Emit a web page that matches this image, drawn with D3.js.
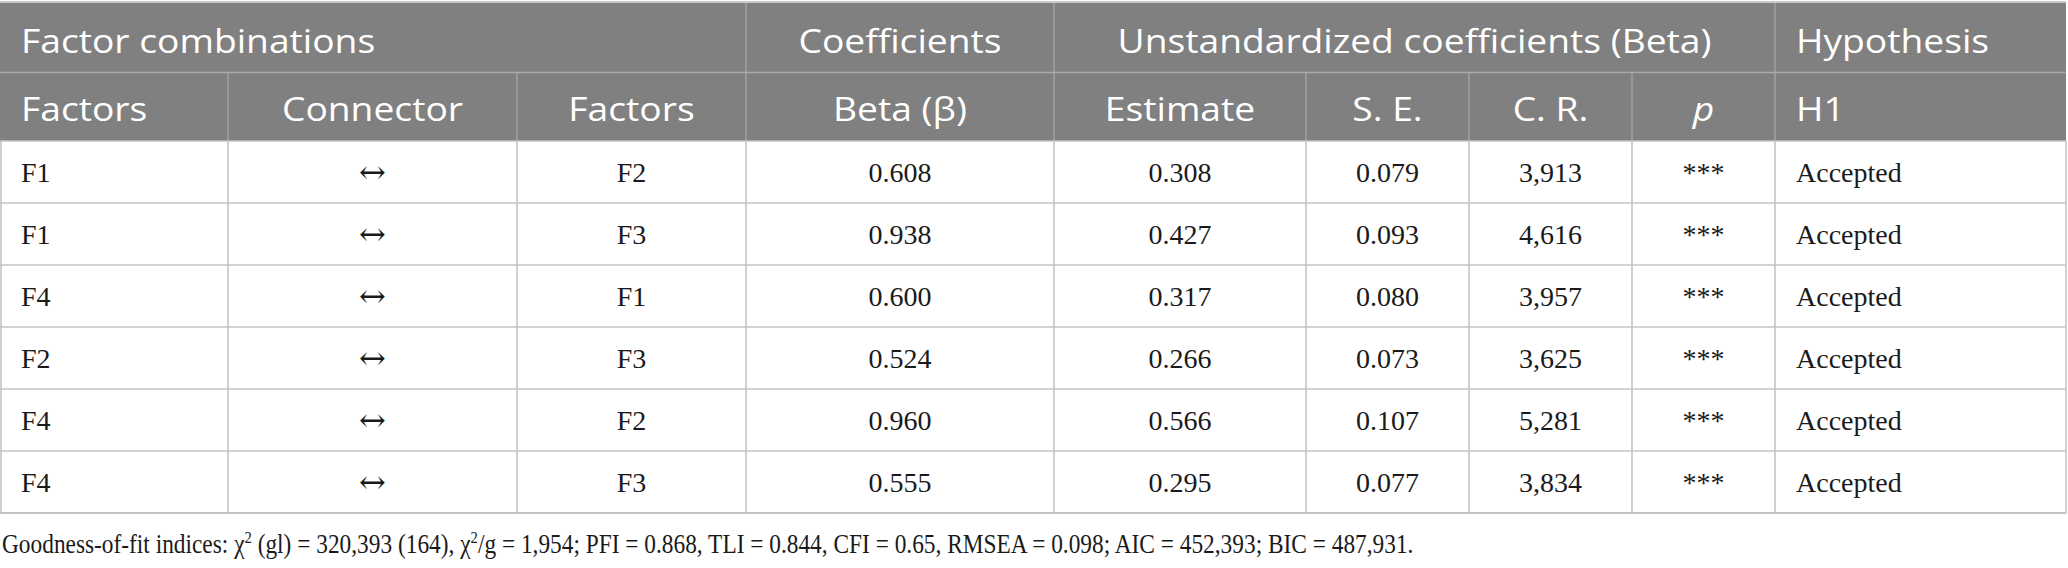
<!DOCTYPE html>
<html>
<head>
<meta charset="utf-8">
<script src="https://cdn.jsdelivr.net/npm/d3@7"></script>
<style>
  html, body { margin: 0; padding: 0; background: #fff; }
  svg { display: block; }
</style>
</head>
<body>
<svg id="chart" width="2068" height="568"></svg>
<script>
// ---- data ----
const factorsLeft  = ["F1", "F1", "F4", "F2", "F4", "F4"];
const connectors   = ["↔", "↔", "↔", "↔", "↔", "↔"];
const factorsRight = ["F2", "F3", "F1", "F3", "F2", "F3"];
const betas        = ["0.608", "0.938", "0.600", "0.524", "0.960", "0.555"];
const estimates    = ["0.308", "0.427", "0.317", "0.266", "0.566", "0.295"];
const stdErrors    = ["0.079", "0.093", "0.080", "0.073", "0.107", "0.077"];
const critRatios   = ["3,913", "4,616", "3,957", "3,625", "5,281", "3,834"];
const pValues      = ["***", "***", "***", "***", "***", "***"];
const hypotheses   = ["Accepted", "Accepted", "Accepted", "Accepted", "Accepted", "Accepted"];

const groupHeaders = ["Factor combinations", "Coefficients", "Unstandardized coefficients (Beta)", "Hypothesis"];
const colHeaders   = ["Factors", "Connector", "Factors", "Beta (β)", "Estimate", "S. E.", "C. R.", "p", "H1"];

// ---- layout ----
const svg = d3.select("#chart");
const edges = [0, 228, 517, 746, 1054, 1306, 1469, 1632, 1775, 2066];
const colAlign = ["start", "middle", "middle", "middle", "middle", "middle", "middle", "middle", "start"];
const groupSpans = [[0, 3, "start"], [3, 4, "middle"], [4, 8, "middle"], [8, 9, "start"]];
const pad = 21;
const headTop = 3, head1Bot = 72.5, head2Bot = 141;
const dataBot = 513;

const columns = [factorsLeft, connectors, factorsRight, betas, estimates, stdErrors, critRatios, pValues, hypotheses];
const nRows = factorsLeft.length;

const y = d3.scaleBand().domain(d3.range(nRows)).range([head2Bot, dataBot]).padding(0);
const xEdge = d3.scaleOrdinal().domain(d3.range(edges.length)).range(edges);

function textX(a, b, align) {
  return align === "start" ? xEdge(a) + pad : (xEdge(a) + xEdge(b)) / 2;
}

const headFont = "'Open Sans', 'Noto Sans', sans-serif";
const bodyFont = "'Liberation Serif', 'DejaVu Serif', serif";
const headFill = "#808080";
const headLine = "#a8a8a8";
const gridLine = "#c4c4c4";
const headSize = 32.5;

// header background
svg.append("rect").attr("x", 0).attr("y", headTop).attr("width", edges[edges.length - 1])
  .attr("height", head2Bot - headTop).attr("fill", headFill);

svg.append("line").attr("x1", 0).attr("x2", edges[edges.length - 1]).attr("y1", 2).attr("y2", 2)
  .attr("stroke", "#c8c8c8").attr("stroke-width", 2);

svg.append("line").attr("x1", 0).attr("x2", edges[edges.length - 1]).attr("y1", head1Bot).attr("y2", head1Bot)
  .attr("stroke", headLine).attr("stroke-width", 1.5);
[3, 4, 8].forEach(i => {
  svg.append("line").attr("x1", xEdge(i)).attr("x2", xEdge(i)).attr("y1", headTop).attr("y2", head1Bot)
    .attr("stroke", headLine).attr("stroke-width", 1.2);
});
d3.range(1, edges.length - 1).forEach(i => {
  svg.append("line").attr("x1", xEdge(i)).attr("x2", xEdge(i)).attr("y1", head1Bot).attr("y2", head2Bot)
    .attr("stroke", headLine).attr("stroke-width", 1.2);
});

// header texts (slightly widened to match the reference's proportions)
const headTexts = [];
groupSpans.forEach((g, i) => {
  headTexts.push(svg.append("text").attr("x", textX(g[0], g[1], g[2])).attr("y", 53)
    .attr("text-anchor", g[2]).attr("font-family", headFont).attr("font-size", headSize)
    .attr("fill", "#fff").text(groupHeaders[i]));
});
colHeaders.forEach((h, i) => {
  headTexts.push(svg.append("text").attr("x", textX(i, i + 1, colAlign[i])).attr("y", 121)
    .attr("text-anchor", colAlign[i]).attr("font-family", headFont).attr("font-size", headSize)
    .attr("font-style", h === "p" ? "italic" : null)
    .attr("fill", "#fff").text(h));
});
const refW = headTexts[2].node().getComputedTextLength();
const kHead = refW > 0 ? 594 / refW : 1;
headTexts.forEach(t => {
  const w = t.node().getComputedTextLength();
  if (w > 0) t.attr("textLength", w * kHead).attr("lengthAdjust", "spacingAndGlyphs");
});

// body grid
d3.range(nRows + 1).forEach(r => {
  const yy = r < nRows ? y(r) : dataBot;
  svg.append("line").attr("x1", 0).attr("x2", edges[edges.length - 1]).attr("y1", yy).attr("y2", yy)
    .attr("stroke", gridLine).attr("stroke-width", r === nRows ? 2.2 : 1.6);
});
edges.forEach((e, i) => {
  svg.append("line").attr("x1", e + (i === 0 ? 1 : 0)).attr("x2", e + (i === 0 ? 1 : 0))
    .attr("y1", head2Bot).attr("y2", dataBot)
    .attr("stroke", gridLine).attr("stroke-width", 1.6);
});

// body text
columns.forEach((col, c) => {
  const isArrow = c === 1;
  svg.selectAll(null).data(col).enter().append("text")
    .attr("x", textX(c, c + 1, colAlign[c]))
    .attr("y", (d, r) => y(r) + y.bandwidth() / 2 + (isArrow ? 11 : 10))
    .attr("text-anchor", colAlign[c])
    .attr("font-family", isArrow ? "'DejaVu Serif', serif" : bodyFont)
    .attr("font-size", isArrow ? 32 : 28)
    .attr("fill", "#1a1a1a")
    .text(d => d);
});

// footnote
const footG = svg.append("g");
const foot = footG.append("text").attr("x", 0).attr("y", 0)
  .attr("font-family", bodyFont).attr("font-size", 27).attr("fill", "#1a1a1a");
foot.append("tspan").text("Goodness-of-fit indices: χ");
foot.append("tspan").attr("dy", -10).attr("font-size", 17).text("2");
foot.append("tspan").attr("dy", 10).text(" (gl) = 320,393 (164), χ");
foot.append("tspan").attr("dy", -10).attr("font-size", 17).text("2");
foot.append("tspan").attr("dy", 10).text("/g = 1,954; PFI = 0.868, TLI = 0.844, CFI = 0.65, RMSEA = 0.098; AIC = 452,393; BIC = 487,931.");
const fw = foot.node().getBBox().width;
const kFoot = fw > 0 ? 1412 / fw : 1;
footG.attr("transform", `translate(2,553) scale(${kFoot},1)`);
</script>
</body>
</html>
